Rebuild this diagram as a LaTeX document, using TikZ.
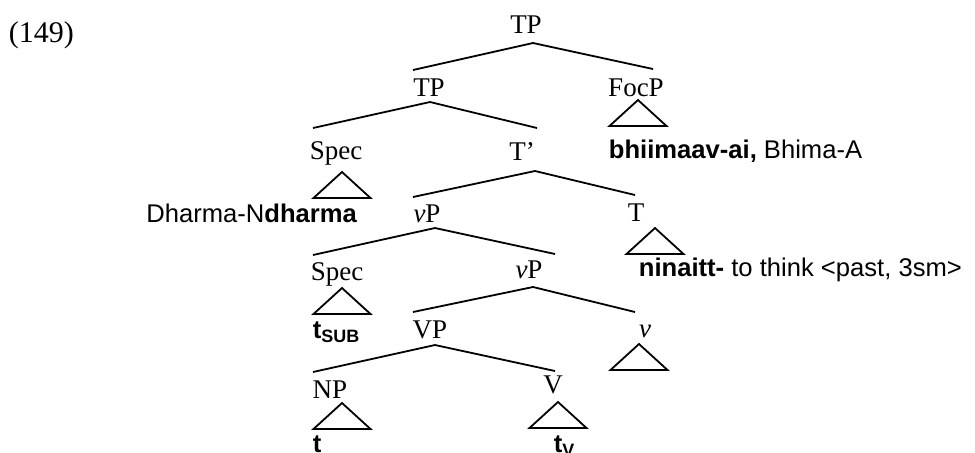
\documentclass[tikz,border=0pt]{standalone}
\usepackage{fontspec}
\setmainfont{Liberation Serif}
\setsansfont{Liberation Sans}

\tikzset{
  phrase/.style={anchor=base, inner sep=0pt, font=\fontsize{13.5}{16}\selectfont},
  leaf/.style={anchor=base west, inner sep=0pt, font=\sffamily\fontsize{12.8}{15}\selectfont},
  roof/.pic={\draw (0,0) -- (-28.5,26) -- (28.5,26) -- cycle;}
}

\begin{document}
\begin{tikzpicture}[x=0.5pt, y=-0.5pt, line width=0.9pt]
  \useasboundingbox (0,0) rectangle (975,452);

  \node[anchor=base west, inner sep=0pt, font=\fontsize{15}{18}\selectfont] (num) at (8,42) {(149)};

  % category labels
  \node[phrase] (tp0) at (526,33) {TP};
  \node[phrase] (tp1) at (429,96) {TP};
  \node[phrase] (focp) at (636,96) {FocP};
  \node[phrase] (spec1) at (336,159) {Spec};
  \node[phrase] (tbar) at (522,160) {T’};
  \node[phrase] (vp1) at (427,222) {\textit{v}P};
  \node[phrase] (thead) at (636,221) {T};
  \node[phrase] (spec2) at (337,280) {Spec};
  \node[phrase] (vp2) at (529,278) {\textit{v}P};
  \node[phrase] (vp) at (430,338) {VP};
  \node[phrase] (vhead) at (645,337) {\textit{v}};
  \node[phrase] (np) at (330,398) {NP};
  \node[phrase] (verb) at (553,393) {V};

  % branches
  \draw ([shift={(-16,-26)}]tp1.base) -- ([shift={(7,10)}]tp0.base) -- ([shift={(17,-27)}]focp.base);
  \draw ([shift={(-23,-31)}]spec1.base) -- ([shift={(1,6)}]tp1.base) -- ([shift={(15,-32)}]tbar.base);
  \draw ([shift={(-14,-25)}]vp1.base) -- ([shift={(13,11)}]tbar.base) -- ([shift={(-1,-26)}]thead.base);
  \draw ([shift={(-24,-25)}]spec2.base) -- ([shift={(8,6)}]vp1.base) -- ([shift={(26,-24)}]vp2.base);
  \draw ([shift={(-17,-26)}]vp.base) -- ([shift={(4,9)}]vp2.base) -- ([shift={(-10,-25)}]vhead.base);
  \draw ([shift={(-17,-26)}]np.base) -- ([shift={(5,7)}]vp.base) -- ([shift={(2,-22)}]verb.base);

  % triangles
  \pic at ([shift={(2,4)}]focp.base) {roof};
  \pic at ([shift={(6,13)}]spec1.base) {roof};
  \pic at ([shift={(19,7)}]thead.base) {roof};
  \pic at ([shift={(5,8)}]spec2.base) {roof};
  \pic at ([shift={(-6,7)}]vhead.base) {roof};
  \pic at ([shift={(12,5)}]np.base) {roof};
  \pic at ([shift={(5,9)}]verb.base) {roof};

  % words
  \node[leaf] (focw) at (608,158) {\textbf{bhiimaav-ai,} Bhima-A};
  \node[leaf, anchor=base east] (specw) at (358,222) {Dharma-N\textbf{dharma}};
  \node[leaf] (tw) at (638,276) {\textbf{ninaitt-} to think <past, 3sm>};
  \node[leaf] (subw) at (312,338) {\textbf{t}\textsubscript{\textbf{SUB}}};
  \node[leaf] (npw) at (312,452) {\textbf{t}};
  \node[leaf] (verbw) at (553,452) {\textbf{t}\textsubscript{\textbf{V}}};
\end{tikzpicture}
\end{document}
